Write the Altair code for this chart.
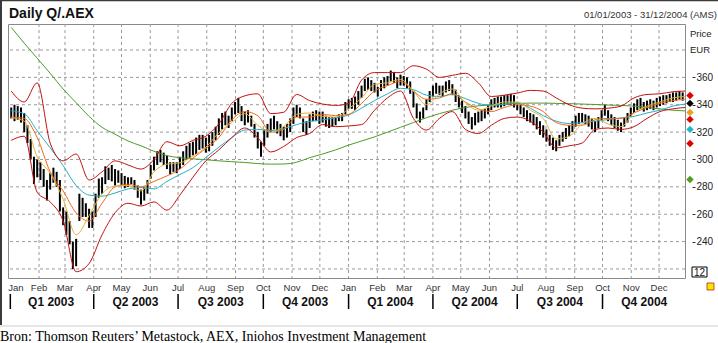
import altair as alt
import pandas as pd

# ---------------- data ----------------
bar_lo = [330,328,329,327,320,312,300,282,287,285,280,270,278,283,280,262,252,245,238,220,
          222,255,258,258,250,250,258,272,275,282,285,284,281,283,281,279,280,282,278,272,
          267,270,275,286,292,296,298,296,293,289,291,290,293,296,300,301,303,304,307,308,
          305,306,310,314,318,322,325,323,328,333,334,328,325,327,324,316,308,302,310,316,
          320,322,319,317,314,316,320,326,331,330,320,318,323,328,328,326,327,324,323,324,
          325,328,328,333,337,337,336,340,345,350,351,350,349,346,350,352,354,357,356,352,
          354,354,352,348,338,330,327,330,336,342,346,348,347,346,349,350,347,342,338,334,
          330,326,322,325,327,328,330,333,336,338,338,338,339,340,340,338,336,333,331,328,
          327,325,322,318,316,313,310,307,306,310,313,315,317,320,324,326,327,326,324,322,
          320,323,328,332,328,325,323,321,320,324,327,331,334,336,337,335,336,337,336,338,
          339,340,341,342,342,343,344,343]
bar_hi = [338,340,339,338,334,325,315,302,300,298,293,285,290,294,291,285,265,262,255,240,
          242,275,272,268,264,262,275,286,287,295,294,296,293,292,290,288,287,287,285,281,
          278,280,285,296,302,306,307,305,303,298,298,298,302,306,310,312,313,316,318,318,
          316,318,320,324,330,334,335,332,338,342,345,339,335,336,332,326,320,313,322,326,
          330,332,328,326,324,326,330,338,340,338,330,328,333,335,336,335,335,332,331,331,
          331,333,334,342,344,345,346,350,354,359,360,358,356,353,358,360,361,365,364,360,
          362,361,360,357,350,341,335,338,344,350,354,356,354,354,357,358,355,351,347,343,
          339,335,331,334,335,336,337,340,344,345,346,346,347,347,348,347,340,340,338,336,
          334,333,331,328,325,322,318,316,314,318,320,323,325,328,332,334,334,333,332,330,
          328,331,336,340,336,333,331,329,327,331,334,338,341,344,345,342,343,344,343,345,
          346,347,347,348,349,349,350,349]
bar_dates = pd.date_range("2003-01-02", periods=len(bar_lo), freq="84h")

line_dates = list(pd.date_range("2003-01-02", periods=52, freq="14D")) + [pd.Timestamp("2004-12-29")]
ma_green = [396.5,385,374,363,351.5,341.5,331.5,323.5,318.5,313.5,310,306,302.8,301.3,300.5,299.8,
            299,298.4,297.8,297,296.6,296.7,298,301.3,304,307,310.5,313.5,316.5,320,323.5,327,
            330.5,333.5,336,338,339.2,340,340.5,341,341.2,341.2,341,340.8,340.5,340.2,339.8,
            339.5,339,338,337,336,335.5]
ma_cyan = [335.5,333.5,321,308.5,295.5,281,274,273.2,275.5,278.5,279.5,278.5,284,289,294,301.5,
           309,316,321.5,322,321.2,322.5,325.5,327.8,329,330.5,332.5,337.5,343,348,352,351,347,
           346,347.5,344.5,341,339.5,340.3,341.5,337.5,332,328,326.3,327,328,329.2,330.4,331.5,
           334,336,339,340.5]
ma_yellow = [330.5,328,302,290,271,245,259,275,280.5,281,277,291,296.6,297.5,302.5,309,319.5,
             327,333.5,325,320,324,333,334,331.5,331,337,345,355,356,358.5,350,340,348,351.5,
             341.5,336,339,342,342,336,330,315,317,326,330,326,324,334,339,342,345,346]
ma_mid = [331,330,316,291,277,261,255,268,280,282,280,284,288,293,301,308,316,329,335,332,320,
          322,331,331,333,332,333,341,350,354,357,350,344,345,348,342,337,335,338,340,339,335,
          327,325,325,329,330,330,334,338,341,343,344]
band_up = [350,342,356,312,299,304,285,291,299,296,293,300,313,310,314,317,326,341,346.5,348,
           333.5,334.5,347.5,343,340.5,339.5,341,358,363.5,363.5,363.5,368.5,366,360,361.5,363,
           356,346,347,348.5,350.5,350,345,340,337.5,337,337.5,339,345,347.5,348,349.5,350]
band_dn = [314,317,276,269,255,218,224,245,261,268,266,269,263,274,287,299,307,316,323,316,
           305.5,309.5,316,319,325.5,324,324.5,325.5,336,345,350,330,321.5,330,335,322,319,325,
           330,331,328,320,308.5,310,312,322,323,322,324,330,335,337,338]

marker_vals = [346.8, 341.0, 334.4, 329.3, 322.0, 311.7, 285.4]
marker_cols = ["#e00000", "#000000", "#e8a317", "#e00000", "#20b8c8", "#e00000", "#4fa020"]

grid_vals = [220, 240, 260, 280, 300, 320, 340, 360, 380]
axis_vals = [220, 240, 260, 280, 300, 320, 340, 360]
month_names = ["Jan", "Feb", "Mar", "Apr", "May", "Jun", "Jul", "Aug", "Sep", "Oct", "Nov", "Dec"] * 2
month_dates = pd.date_range("2003-01-01", "2004-12-01", freq="MS")
quarter_names = ["Q1 2003", "Q2 2003", "Q3 2003", "Q4 2003", "Q1 2004", "Q2 2004", "Q3 2004", "Q4 2004"]
quarter_mid = ["2003-02-14", "2003-05-16", "2003-08-16", "2003-11-15",
               "2004-02-15", "2004-05-16", "2004-08-16", "2004-11-15"]
quarter_start = ["2003-01-01", "2003-04-01", "2003-07-01", "2003-10-01",
                 "2004-01-01", "2004-04-01", "2004-07-01", "2004-10-01"]

title_text = "Daily Q/.AEX"
range_text = "01/01/2003 - 31/12/2004 (AMS)"
footer_text = "Bron: Thomson Reuters\u2019 Metastock, AEX, Iniohos Investment Management"

# ---------------- chart ----------------
FONT = "Liberation Sans"
W, H = 677, 254

xscale = alt.Scale(domain=[alt.DateTime(year=2002, month=12, date=29, hours=12),
                           alt.DateTime(year=2004, month=12, date=29)], nice=False)
yscale = alt.Scale(domain=[213.4, 399], nice=False, zero=False)
yaxis = alt.Axis(orient="right", values=axis_vals, grid=False, domain=False, ticks=True,
                 tickSize=3, tickColor="#333333", offset=7, labelPadding=1,
                 labelFontSize=10, labelFont=FONT, labelColor="#222222", title=None,
                 labelExpr="datum.value == 220 ? '' : datum.label")


def X(field):
    return alt.X(field, type="temporal", scale=xscale, axis=None)


def Y(field):
    return alt.Y(field, type="quantitative", scale=yscale, axis=yaxis)


hgrid = alt.Chart(pd.DataFrame({"v": grid_vals})).mark_rule(
    color="#9a9a9a", strokeDash=[3, 3], strokeWidth=1).encode(y=Y("v"))

vgrid = alt.Chart(pd.DataFrame({"d": month_dates[1:]})).mark_rule(
    color="#9a9a9a", strokeDash=[3, 3], strokeWidth=1).encode(x=X("d"))

bars_df = pd.DataFrame({"d": bar_dates, "lo": bar_lo, "hi": bar_hi})
bars = alt.Chart(bars_df).mark_rule(color="#000000", strokeWidth=2).encode(
    x=X("d"), y=Y("lo"), y2="hi")

lines_df = pd.DataFrame({"d": line_dates, "green": ma_green, "cyan": ma_cyan,
                         "yellow": ma_yellow, "mid": ma_mid, "up": band_up, "dn": band_dn})


def line(field, color, width=1.0):
    return alt.Chart(lines_df).mark_line(color=color, strokeWidth=width,
                                         interpolate="monotone").encode(x=X("d"), y=Y(field))


markers = alt.Chart(pd.DataFrame({"v": marker_vals, "c": marker_cols})).mark_point(
    shape="diamond", filled=True, size=55, opacity=1).encode(
    x=alt.value(682), y=Y("v"), color=alt.Color("c:N", scale=None))


def txt(s, x, y, size=10, bold=False, align="left", font=FONT, color="#222222"):
    return alt.Chart(pd.DataFrame({"t": [s]})).mark_text(
        align=align, baseline="alphabetic", fontSize=size, font=font, color=color,
        fontWeight="bold" if bold else "normal").encode(
        text="t:N", x=alt.value(x), y=alt.value(y))


month_df = pd.DataFrame({"d": month_dates[1:], "t": month_names[1:]})
months = alt.Chart(month_df).mark_text(
    baseline="alphabetic", fontSize=9.5, font=FONT, color="#333333").encode(
    x=X("d"), y=alt.value(267), text="t:N")
first_month = alt.Chart(pd.DataFrame({"d": month_dates[:1], "t": month_names[:1]})).mark_text(
    baseline="alphabetic", align="left", dx=-2, fontSize=9.5, font=FONT, color="#333333").encode(
    x=X("d"), y=alt.value(267), text="t:N")

quarters = alt.Chart(pd.DataFrame({"d": pd.to_datetime(quarter_mid), "t": quarter_names})).mark_text(
    baseline="alphabetic", fontSize=12, fontWeight="bold", font=FONT, color="#111111").encode(
    x=X("d"), y=alt.value(282), text="t:N")
qsep = alt.Chart(pd.DataFrame({"d": pd.to_datetime(quarter_start)})).mark_rule(
    color="#000000", strokeWidth=1.5).encode(x=X("d"), y=alt.value(270), y2=alt.value(285))

box = alt.Chart(pd.DataFrame({"a": [0]})).mark_rect(
    fill="#ffffff", stroke="#000000", strokeWidth=1).encode(
    x=alt.value(684), x2=alt.value(699), y=alt.value(243), y2=alt.value(253))
icon = alt.Chart(pd.DataFrame({"a": [0]})).mark_rect(
    fill="#f5e800", stroke="#c02020", strokeWidth=0.8).encode(
    x=alt.value(699), x2=alt.value(706), y=alt.value(259), y2=alt.value(266))

left_border = alt.Chart(pd.DataFrame({"a": [0]})).mark_rule(
    color="#3a3a3a", strokeWidth=2).encode(x=alt.value(-7), y=alt.value(-24), y2=alt.value(301))
top_border = alt.Chart(pd.DataFrame({"a": [0]})).mark_rule(
    color="#3a3a3a", strokeWidth=1.5).encode(x=alt.value(-8), x2=alt.value(710), y=alt.value(-23.5))
foot_line = alt.Chart(pd.DataFrame({"a": [0]})).mark_rule(
    color="#cccccc", strokeWidth=1).encode(x=alt.value(-8), x2=alt.value(710), y=alt.value(302))

chart = alt.layer(
    hgrid, vgrid, bars,
    line("green", "#4d9a2a"),
    line("cyan", "#28aec4"),
    line("up", "#c41010"),
    line("dn", "#c41010"),
    line("mid", "#f06a1a"),
    line("yellow", "#e0b23a"),
    markers,
    months, first_month, quarters, qsep, box, icon,
    left_border, top_border, foot_line,
    txt(title_text, 1, -6, size=14, bold=True, color="#111111"),
    txt(range_text, 709, -6, size=9.5, align="right", color="#333333"),
    txt("Price", 682, 13, size=9.5, color="#222222"),
    txt("EUR", 682, 29, size=9.5, color="#222222"),
    txt("12", 691.5, 251.5, size=10, align="center", color="#111111"),
    txt(footer_text, -8, 317, size=14, font="Liberation Serif", color="#000000"),
).properties(
    width=W, height=H,
    autosize=alt.AutoSizeParams(type="none"),
    padding={"left": 8, "top": 24, "right": 33, "bottom": 65},
    background="#ffffff",
).configure_view(stroke="#8a8a8a", strokeWidth=1)

chart.save("out.html", embed_options={"renderer": "svg", "actions": False})
